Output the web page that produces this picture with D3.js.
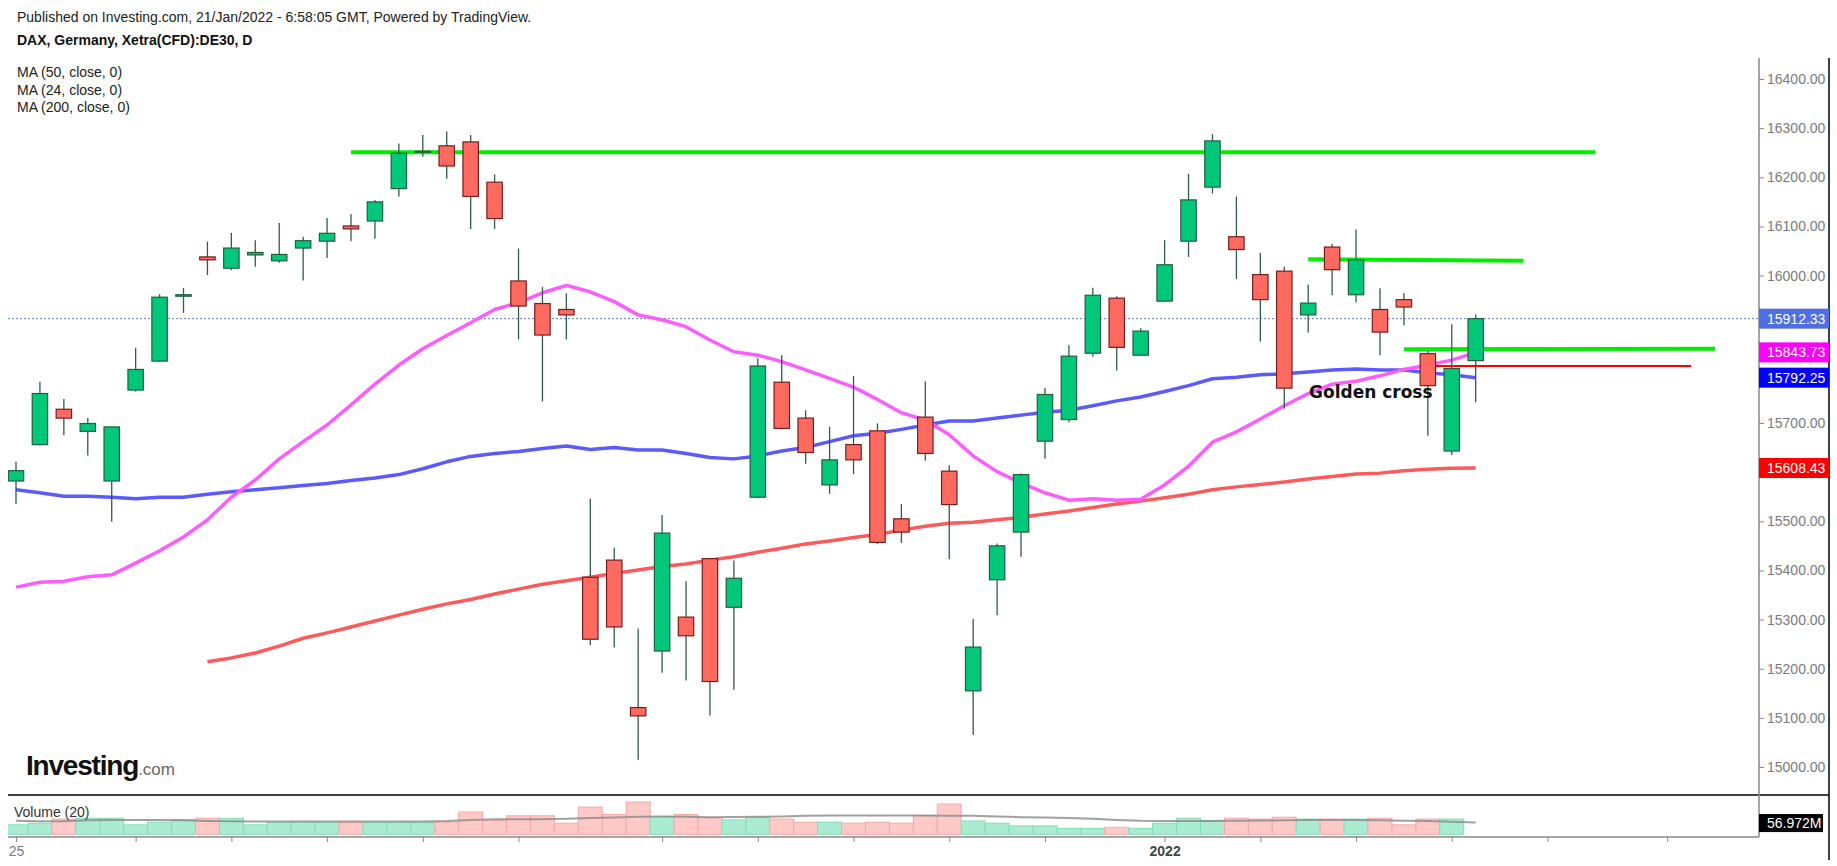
<!DOCTYPE html>
<html>
<head>
<meta charset="utf-8">
<script src="https://cdn.jsdelivr.net/npm/d3@7"></script>
<style>
body { margin: 0; background: #fff; }
svg { display: block; font-family: "Liberation Sans", Arial, sans-serif; }
</style>
</head>
<body>
<script>
var w = 1837;
var h = 866;

// daily candles, DAX CFD, 25 Oct 2021 .. 21 Jan 2022
var open = [15582, 15656, 15728, 15683, 15582, 15767, 15826, 15958, 16038, 16015,
    16042, 16030, 16056, 16070, 16101, 16111, 16177, 16252, 16264, 16272,
    16190, 15989, 15943, 15931, 15386, 15421, 15121, 15236, 15305, 15424,
    15325, 15549, 15783, 15710, 15574, 15656, 15684, 15505, 15712, 15602,
    15155, 15381, 15478, 15663, 15707, 15842, 15954, 15838, 15948, 16070,
    16180, 16079, 16002, 16009, 15920, 16058, 15961, 15931, 15951, 15841,
    15643, 15827];
var high = [15621, 15784, 15749, 15710, 15693, 15853, 15962, 15975, 16069, 16087,
    16072, 16107, 16079, 16117, 16125, 16154, 16269, 16286, 16293, 16286,
    16206, 16055, 15977, 15964, 15546, 15446, 15282, 15513, 15378, 15426,
    15420, 15832, 15838, 15726, 15692, 15796, 15699, 15535, 15785, 15614,
    15301, 15455, 15597, 15771, 15858, 15975, 15958, 15893, 16072, 16207,
    16288, 16161, 16046, 16018, 15982, 16064, 16094, 15974, 15964, 15847,
    15901, 15921];
var low = [15535, 15654, 15675, 15634, 15499, 15764, 15824, 15924, 16001, 16011,
    16018, 16026, 15990, 16036, 16070, 16075, 16161, 16242, 16197, 16095,
    16095, 15870, 15744, 15870, 15248, 15243, 15015, 15192, 15176, 15105,
    15157, 15547, 15687, 15617, 15556, 15596, 15454, 15456, 15623, 15423,
    15065, 15309, 15428, 15627, 15701, 15835, 15807, 15837, 15946, 16038,
    16167, 15993, 15866, 15729, 15884, 15960, 15945, 15838, 15899, 15674,
    15635, 15742];
var close = [15603, 15760, 15710, 15699, 15692, 15809, 15956, 15961, 16032, 16056,
    16047, 16043, 16071, 16086, 16095, 16150, 16249, 16253, 16223, 16161,
    16116, 15938, 15879, 15920, 15260, 15285, 15104, 15476, 15267, 15174,
    15384, 15816, 15689, 15640, 15625, 15625, 15457, 15478, 15638, 15534,
    15244, 15450, 15595, 15758, 15836, 15960, 15854, 15887, 16022, 16154,
    16274, 16053, 15951, 15771, 15944, 16012, 16032, 15885, 15936, 15776,
    15811, 15912.33];

// volume in millions (last day has no bar yet)
var vol = [46, 54, 74, 78, 78, 46, 59, 72, 78, 78,
    46, 59, 59, 59, 57, 57, 57, 57, 60, 108,
    67, 90, 90, 54, 132, 96, 157, 85, 96, 81,
    70, 83, 74, 59, 59, 54, 59, 54, 91, 147,
    65, 54, 41, 41, 29, 29, 34, 29, 54, 78,
    67, 78, 74, 83, 74, 74, 74, 78, 46, 74,
    74, 0];
var volMa = [66, 63, 63, 68, 70, 70, 70, 68, 65, 63,
    62, 62, 62, 62, 62, 62, 62, 62, 64, 70,
    72.5, 73.5, 73.5, 75, 79, 82, 85, 86, 85, 83,
    84, 85, 87, 90, 91, 91, 91, 91, 91, 90,
    90, 87, 83, 81, 79, 76, 70, 66, 65, 65,
    65, 66, 67, 68, 69, 70, 70, 68, 66, 65,
    61, 56.972];

var ma24 = [15366, 15376, 15378, 15387, 15391, 15415, 15440, 15468, 15503, 15549,
    15584, 15627, 15662, 15696, 15737, 15779, 15818, 15851, 15878, 15904,
    15931, 15945, 15965, 15980, 15967, 15947, 15920, 15910, 15896, 15869,
    15845, 15838, 15825, 15808, 15791, 15773, 15748, 15721, 15706, 15676,
    15633, 15601, 15578, 15558, 15543, 15546, 15543, 15545, 15574, 15612,
    15661, 15682, 15708, 15735, 15760, 15779, 15785, 15796, 15809, 15818,
    15828, 15843.73];
var ma50 = [15564, 15558, 15551, 15551, 15549, 15546, 15549, 15549, 15555, 15560,
    15564, 15568, 15573, 15577, 15583, 15588, 15595, 15607, 15621, 15632,
    15638, 15642, 15648, 15653, 15646, 15650, 15645, 15645, 15638, 15630,
    15627, 15633, 15643, 15650, 15662, 15674, 15679, 15687, 15696, 15704,
    15704, 15710, 15716, 15722, 15726, 15735, 15745, 15753, 15764, 15776,
    15790, 15793, 15798, 15800, 15804, 15808, 15810, 15808, 15808, 15802,
    15798, 15792.25];
var ma200 = [null, null, null, null, null, null, null, null, 15214, 15222,
    15232, 15246, 15262, 15273, 15285, 15297, 15309, 15321, 15332, 15341,
    15352, 15362, 15372, 15379, 15386, 15394, 15401, 15408, 15413, 15421,
    15428, 15437, 15445, 15454, 15460, 15467, 15473, 15482, 15490, 15496,
    15498, 15503, 15508, 15515, 15521, 15528, 15535, 15541, 15548, 15555,
    15564, 15570, 15575, 15580, 15586, 15591, 15596, 15598, 15603, 15606,
    15608, 15608.43];

// drawn levels: [value at start, value at end, start index, end index, colour, width]
var levels = [
    [16251, 16251, 14, 66, "#00ee00", 4],
    [16033, 16030, 54, 63, "#00ee00", 4],
    [15850, 15851, 58, 71, "#00ee00", 4],
    [15816, 15816, 59.3, 70, "#ff0000", 2]
];

var yTicks = d3.range(15000, 16401, 100);
var xTicks = [0, 5, 9, 13, 17, 21, 27, 31, 35, 39, 43, 48, 52, 56, 60, 64, 69];
var xTickLabels = {0: "25", 48: "2022"};

var maLabels = ["MA (50, close, 0)", "MA (24, close, 0)", "MA (200, close, 0)"];

var plotLeft = 8;
var axisX = 1759;
var plotTop = 58;
var sepY = 795;
var baseY = 837;
var last = close.length - 1;

var x = d3.scaleLinear().domain([0, last]).range([16, 1475.7]);
var step = x(1) - x(0);
var y = d3.scaleLinear().domain([15000, 16400]).range([767, 79]);
var yv = d3.scaleLinear().domain([0, 186]).range([834.3, 796]);

var svg = d3.select("body")
    .append("svg")
    .attr("width", w)
    .attr("height", h);

svg.append("rect").attr("width", w).attr("height", h).attr("fill", "#fff");

var defs = svg.append("defs");
defs.append("clipPath").attr("id", "plot")
    .append("rect")
    .attr("x", plotLeft).attr("y", plotTop)
    .attr("width", axisX - plotLeft).attr("height", sepY - plotTop);
defs.append("clipPath").attr("id", "vpane")
    .append("rect")
    .attr("x", plotLeft).attr("y", sepY)
    .attr("width", axisX - plotLeft).attr("height", baseY - sepY);

// header texts
svg.append("text").text("Published on Investing.com, 21/Jan/2022 - 6:58:05 GMT, Powered by TradingView.")
    .attr("x", 17).attr("y", 22).attr("font-size", 14).attr("fill", "#222");
svg.append("text").text("DAX, Germany, Xetra(CFD):DE30, D")
    .attr("x", 17).attr("y", 45).attr("font-size", 14).attr("font-weight", "bold").attr("fill", "#111");
svg.selectAll("text.ma")
    .data(maLabels)
    .enter()
    .append("text")
    .attr("class", "ma")
    .text(function (d) { return d; })
    .attr("x", 17)
    .attr("y", function (d, i) { return 77 + i * 17.5; })
    .attr("font-size", 14)
    .attr("fill", "#222");

var plot = svg.append("g").attr("clip-path", "url(#plot)");

// last price dotted line
plot.append("line")
    .attr("x1", plotLeft).attr("x2", axisX)
    .attr("y1", y(close[last])).attr("y2", y(close[last]))
    .attr("stroke", "#5577e0").attr("stroke-width", 1).attr("stroke-dasharray", "2,2");

// drawn levels
plot.selectAll("line.level")
    .data(levels)
    .enter()
    .append("line")
    .attr("class", "level")
    .attr("x1", function (d) { return x(d[2]); })
    .attr("x2", function (d) { return x(d[3]); })
    .attr("y1", function (d) { return y(d[0]); })
    .attr("y2", function (d) { return y(d[1]); })
    .attr("stroke", function (d) { return d[4]; })
    .attr("stroke-width", function (d) { return d[5]; });

// moving averages
var maLine = d3.line()
    .defined(function (d) { return d != null; })
    .x(function (d, i) { return x(i); })
    .y(function (d) { return y(d); });

[[ma200, "#ff5a5a"], [ma50, "#5a5aff"], [ma24, "#ff5cff"]].forEach(function (m) {
    plot.append("path")
        .attr("d", maLine(m[0]))
        .attr("fill", "none")
        .attr("stroke", m[1])
        .attr("stroke-width", 3.5)
        .attr("stroke-linejoin", "round");
});

// candles
var candles = plot.selectAll("g.candle")
    .data(close)
    .enter()
    .append("g")
    .attr("class", "candle");

candles.append("line")
    .attr("x1", function (d, i) { return x(i); })
    .attr("x2", function (d, i) { return x(i); })
    .attr("y1", function (d, i) { return y(high[i]); })
    .attr("y2", function (d, i) { return y(low[i]); })
    .attr("stroke", "#2f5d49")
    .attr("stroke-width", 1.3);

candles.append("rect")
    .attr("x", function (d, i) { return x(i) - 7.7; })
    .attr("width", 15.4)
    .attr("y", function (d, i) { return y(Math.max(open[i], d)); })
    .attr("height", function (d, i) { return Math.max(1, Math.abs(y(open[i]) - y(d))); })
    .attr("fill", function (d, i) { return d >= open[i] ? "#00c77a" : "#ff6a60"; })
    .attr("stroke", function (d, i) { return d >= open[i] ? "#225e40" : "#751d1d"; })
    .attr("stroke-width", 1.2);

svg.append("text").text("Golden cross")
    .attr("x", 1309).attr("y", 398)
    .attr("font-family", "DejaVu Sans, sans-serif")
    .attr("font-weight", "bold")
    .attr("font-size", 17)
    .attr("fill", "#111");

// logo
var logo = svg.append("text").attr("x", 26).attr("y", 775);
logo.append("tspan").text("Investing")
    .attr("font-size", 28).attr("font-weight", "bold").attr("letter-spacing", -1.2).attr("fill", "#111");
logo.append("tspan").text(".com")
    .attr("font-size", 17).attr("fill", "#666");

// volume pane
var vpane = svg.append("g").attr("clip-path", "url(#vpane)");
vpane.selectAll("rect.vol")
    .data(vol)
    .enter()
    .append("rect")
    .attr("class", "vol")
    .attr("x", function (d, i) { return x(i) - step / 2; })
    .attr("width", step)
    .attr("y", function (d) { return yv(d); })
    .attr("height", function (d) { return yv(0) - yv(d); })
    .attr("fill", function (d, i) { return close[i] >= open[i] ? "#a9ecd1" : "#ffc9c7"; })
    .attr("stroke", function (d, i) { return close[i] >= open[i] ? "#82dfb8" : "#f8a9a5"; })
    .attr("stroke-width", 1)
    .style("display", function (d) { return d > 0 ? null : "none"; });

vpane.append("path")
    .attr("d", d3.line().x(function (d, i) { return x(i); }).y(function (d) { return yv(d); })(volMa))
    .attr("fill", "none")
    .attr("stroke", "#8a8a8a")
    .attr("stroke-opacity", 0.8)
    .attr("stroke-width", 2);

svg.append("text").text("Volume (20)")
    .attr("x", 14).attr("y", 817).attr("font-size", 14).attr("fill", "#333");

// frame
svg.append("line").attr("x1", plotLeft).attr("x2", 1829).attr("y1", sepY).attr("y2", sepY)
    .attr("stroke", "#000").attr("stroke-width", 1.5);
svg.append("line").attr("x1", 1829).attr("x2", 1829).attr("y1", plotTop).attr("y2", 860)
    .attr("stroke", "#000").attr("stroke-width", 1.5);
svg.append("line").attr("x1", axisX).attr("x2", axisX).attr("y1", plotTop).attr("y2", baseY)
    .attr("stroke", "#888").attr("stroke-width", 1.5);
svg.append("line").attr("x1", plotLeft).attr("x2", axisX).attr("y1", baseY).attr("y2", baseY)
    .attr("stroke", "#888").attr("stroke-width", 1.5);

// value tags on the price axis
var tags = [
    [close[last], "#4e6fe3"],
    [ma24[last], "#ff00ff"],
    [ma50[last], "#0000ff"],
    [ma200[last], "#ff0000"]
];

// price axis; tick labels sitting under a tag are hidden, as on the original
var gy = svg.append("g")
    .attr("transform", "translate(" + axisX + ",0)")
    .call(d3.axisRight(y).tickValues(yTicks).tickFormat(d3.format(".2f")).tickSize(5).tickPadding(3));
gy.select(".domain").remove();
gy.attr("font-size", 14).attr("font-family", "Liberation Sans, Arial, sans-serif");
gy.selectAll("line").attr("stroke", "#888");
gy.selectAll("text")
    .attr("fill", "#7b7b7b")
    .style("display", function (d) {
        var hidden = tags.some(function (t) { return Math.abs(y(t[0]) - y(d)) < 16; });
        return hidden ? "none" : null;
    });

// time axis
var gx = svg.append("g")
    .attr("transform", "translate(0," + baseY + ")")
    .call(d3.axisBottom(x).tickValues(xTicks)
        .tickFormat(function (d) { return xTickLabels[d] || ""; })
        .tickSize(5).tickPadding(4));
gx.select(".domain").remove();
gx.attr("font-size", 14).attr("font-family", "Liberation Sans, Arial, sans-serif");
gx.selectAll("line").attr("stroke", "#888");
gx.selectAll("text")
    .attr("fill", function (d) { return d === 48 ? "#444" : "#7b7b7b"; })
    .attr("font-weight", function (d) { return d === 48 ? "bold" : null; });

var tagG = svg.selectAll("g.tag")
    .data(tags)
    .enter()
    .append("g")
    .attr("class", "tag");
tagG.append("rect")
    .attr("x", axisX)
    .attr("y", function (d) { return y(d[0]) - 10; })
    .attr("width", 70)
    .attr("height", 20)
    .attr("fill", function (d) { return d[1]; });
tagG.append("text")
    .text(function (d) { return d3.format(".2f")(d[0]); })
    .attr("x", axisX + 8)
    .attr("y", function (d) { return y(d[0]) + 5; })
    .attr("font-size", 14)
    .attr("fill", "#fff");

var volTag = svg.append("g");
volTag.append("rect")
    .attr("x", axisX).attr("y", yv(volMa[last]) - 8.5)
    .attr("width", 64).attr("height", 18).attr("fill", "#000");
volTag.append("text")
    .text(d3.format(".3f")(volMa[last]) + "M")
    .attr("x", axisX + 8).attr("y", yv(volMa[last]) + 5)
    .attr("font-size", 14).attr("fill", "#fff");
</script>
</body>
</html>
